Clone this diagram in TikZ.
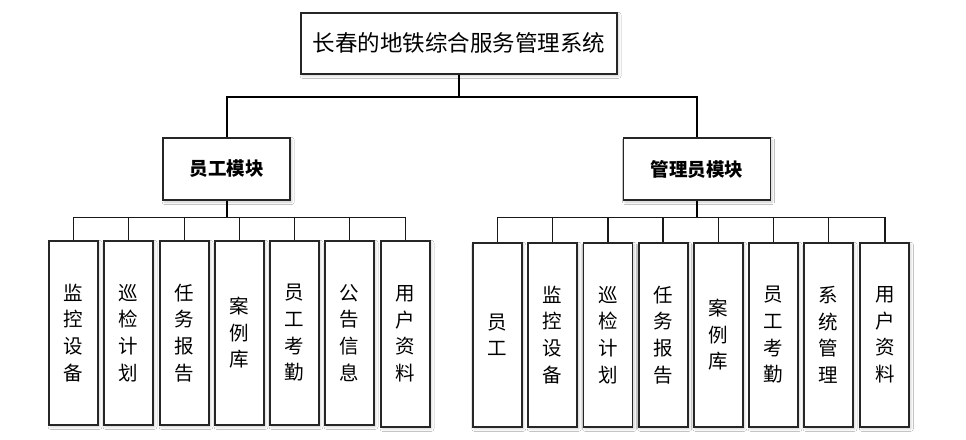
\documentclass[tikz,border=0pt]{standalone}
\usepackage{fontspec}
\newfontfamily\cjk{Noto Sans CJK SC}
\usetikzlibrary{shadows.blur}
\tikzset{
  box/.style={draw=black!85, line width=1.8pt, fill=white, inner sep=0pt,
    blur shadow={shadow xshift=1.5pt, shadow yshift=-2pt, shadow blur radius=2.5pt, shadow opacity=20}},
  titlebox/.style={box, minimum width=316pt, minimum height=61pt, font=\cjk\fontsize{22.5pt}{26pt}\selectfont},
  modbox/.style={box, minimum height=62pt, font=\cjk\bfseries\fontsize{18.5pt}{22pt}\selectfont},
  leaf/.style={box, minimum width=49pt, minimum height=184pt, align=center,
    font=\cjk\fontsize{19.5pt}{26.7pt}\selectfont},
  trunk/.style={draw=black, line width=2pt},
  twig/.style={draw=black!90, line width=1.5pt},
}
\begin{document}
\begin{tikzpicture}[x=1pt,y=-1pt]
\useasboundingbox (0,0) rectangle (966,439);
\fill[white] (0,0) rectangle (966,439);
% top
\node[titlebox] (top) at (459,43.3) {长春的地铁综合服务管理系统};
\node[modbox, minimum width=127pt] (emp) at (226.7,169) {员工模块};
\node[modbox, minimum width=147pt] (adm) at (697,169) {管理员模块};
\coordinate (tb) at (459,96.7);
\draw[trunk] (top.south) -- (tb);
\draw[trunk] (emp.north) |- (tb) -| (adm.north);
% left leaves
\node[leaf] (l1) at (73.5,332.8) {监\\控\\设\\备};
\node[leaf] (l2) at (128.5,332.8) {巡\\检\\计\\划};
\node[leaf] (l3) at (184.5,332.8) {任\\务\\报\\告};
\node[leaf] (l4) at (239.5,332.8) {案\\例\\库};
\node[leaf] (l5) at (294.5,332.8) {员\\工\\考\\勤};
\node[leaf] (l6) at (349.5,332.8) {公\\告\\信\\息};
\node[leaf, minimum height=186pt] (l7) at (405.5,333.8) {用\\户\\资\\料};
\coordinate (lb) at (226.7,217.5);
\draw[trunk] (emp.south) -- (lb);
\foreach \n in {l1,l2,l3,l4,l5,l6,l7} { \draw[twig] (\n.north) |- (lb); }
% right leaves
\node[leaf] (r1) at (497.3,334.8) {员\\工};
\node[leaf] (r2) at (552.7,334.8) {监\\控\\设\\备};
\node[leaf] (r3) at (608,334.8) {巡\\检\\计\\划};
\node[leaf] (r4) at (663.2,334.8) {任\\务\\报\\告};
\node[leaf] (r5) at (718.3,334.8) {案\\例\\库};
\node[leaf] (r6) at (773.5,334.8) {员\\工\\考\\勤};
\node[leaf] (r7) at (828.5,334.8) {系\\统\\管\\理};
\node[leaf] (r8) at (884.8,334.8) {用\\户\\资\\料};
\coordinate (rb) at (697,217.5);
\draw[trunk] (adm.south) -- (rb);
\foreach \n in {r1,r2,r3,r4,r5,r6,r7,r8} { \draw[twig] (\n.north) |- (rb); }
\end{tikzpicture}
\end{document}
